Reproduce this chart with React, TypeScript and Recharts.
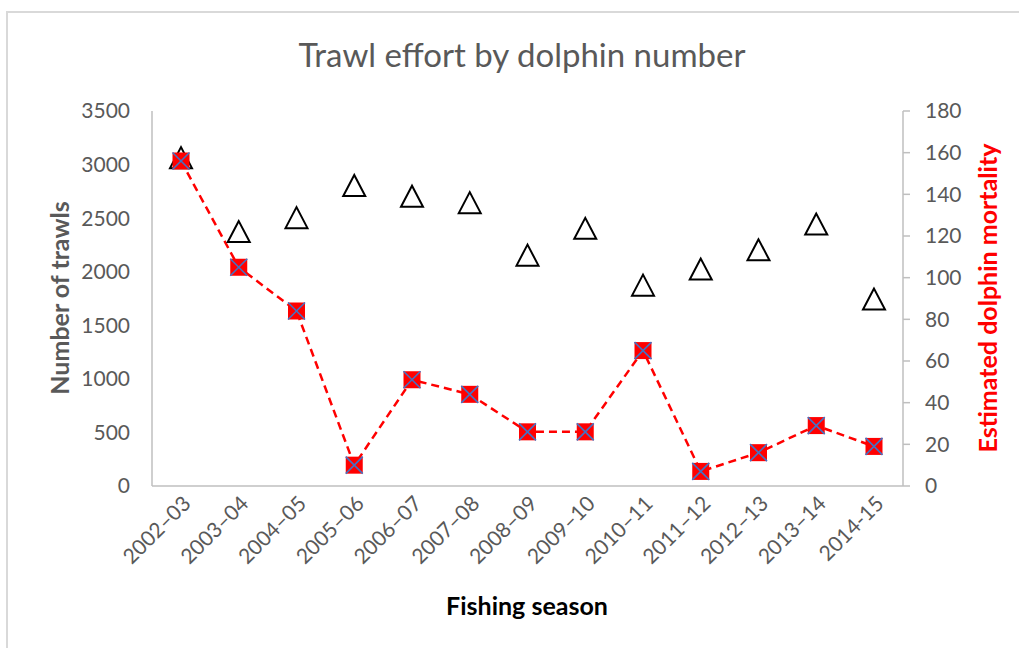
import React from "react";
import { ComposedChart, Line, XAxis, YAxis } from "recharts";

const seasons = [
  "2002–03",
  "2003–04",
  "2004–05",
  "2005–06",
  "2006–07",
  "2007–08",
  "2008–09",
  "2009–10",
  "2010–11",
  "2011–12",
  "2012–13",
  "2013–14",
  "2014-15",
];
const trawls = [3060, 2370, 2500, 2800, 2700, 2640, 2150, 2400, 1870, 2020, 2200, 2440, 1740];
const mortality = [156, 105, 84, 10, 51, 44, 26, 26, 65, 7, 16, 29, 19];
const trawlTicks = [0, 500, 1000, 1500, 2000, 2500, 3000, 3500];
const mortalityTicks = [0, 20, 40, 60, 80, 100, 120, 140, 160, 180];

const data = seasons.map((season, i) => ({
  season,
  trawls: trawls[i],
  mortality: mortality[i],
}));

const FONT = "Lato, 'Open Sans', sans-serif";
const GREY = "#595959";
const AXIS = "#bfbfbf";

function TriangleDot(props: any) {
  const { cx, cy, index } = props;
  if (cx == null || cy == null) return null;
  const pts = `${cx},${cy - 11} ${cx - 11},${cy + 10} ${cx + 11},${cy + 10}`;
  return (
    <polygon
      key={`tri-${index}`}
      points={pts}
      fill="#ffffff"
      stroke="#000000"
      strokeWidth={2}
      strokeLinejoin="miter"
    />
  );
}

function SquareDot(props: any) {
  const { cx, cy, index } = props;
  if (cx == null || cy == null) return null;
  const h = 8.5;
  return (
    <g key={`sq-${index}`}>
      <rect x={cx - h} y={cy - h} width={h * 2} height={h * 2} fill="#ff0000" />
      <line x1={cx - h} y1={cy - h} x2={cx + h} y2={cy + h} stroke="#4472c4" strokeWidth={1.6} />
      <line x1={cx - h} y1={cy + h} x2={cx + h} y2={cy - h} stroke="#4472c4" strokeWidth={1.6} />
    </g>
  );
}

function SeasonTick(props: any) {
  const { x, payload } = props;
  const ax = x + 11;
  const ay = 505;
  return (
    <text
      x={ax}
      y={ay}
      transform={`rotate(-45, ${ax}, ${ay})`}
      textAnchor="end"
      fill={GREY}
      fontSize={21}
      fontFamily={FONT}
    >
      {payload.value}
    </text>
  );
}

export default function App() {
  return (
    <div style={{ position: "absolute", left: 0, top: 0, width: 1019, height: 648, background: "#fff" }}>
      <style>{`body{margin:0}`}</style>
      <div
        style={{
          position: "absolute",
          left: 6,
          top: 11,
          width: 1040,
          height: 660,
          border: "2px solid #d9d9d9",
          boxSizing: "border-box",
        }}
      />
      <div style={{ position: "absolute", left: 0, top: 0 }}>
        <ComposedChart
          width={1019}
          height={648}
          data={data}
          margin={{ top: 111, right: 0, bottom: 62, left: 0 }}
        >
          <XAxis
            dataKey="season"
            interval={0}
            height={100}
            padding={{ left: 29, right: 29 }}
            tickLine={false}
            axisLine={{ stroke: AXIS, strokeWidth: 1.5 }}
            tick={<SeasonTick />}
          />
          <YAxis
            yAxisId="left"
            width={152}
            domain={[0, 3500]}
            ticks={trawlTicks}
            interval={0}
            tickLine={false}
            tickSize={0}
            tickMargin={22}
            axisLine={{ stroke: AXIS, strokeWidth: 1.5 }}
            tick={{ fill: GREY, fontSize: 21, fontFamily: FONT }}
          />
          <YAxis
            yAxisId="right"
            orientation="right"
            width={116}
            domain={[0, 180]}
            ticks={mortalityTicks}
            interval={0}
            tickSize={7}
            tickMargin={15}
            tickLine={{ stroke: AXIS, strokeWidth: 1.5 }}
            axisLine={{ stroke: AXIS, strokeWidth: 1.5 }}
            tick={{ fill: GREY, fontSize: 21, fontFamily: FONT, textAnchor: "start" }}
          />
          <Line
            yAxisId="left"
            dataKey="trawls"
            stroke="none"
            dot={TriangleDot}
            activeDot={false}
            isAnimationActive={false}
          />
          <Line
            yAxisId="right"
            type="linear"
            dataKey="mortality"
            stroke="#ff0000"
            strokeWidth={2.5}
            strokeDasharray="8 5"
            dot={SquareDot}
            activeDot={false}
            isAnimationActive={false}
          />
        </ComposedChart>
      </div>
      <svg
        width={1019}
        height={648}
        style={{ position: "absolute", left: 0, top: 0, pointerEvents: "none" }}
      >
        <text x={522} y={67} textAnchor="middle" fill={GREY} fontSize={33} fontFamily={FONT}>
          Trawl effort by dolphin number
        </text>
        <text
          x={527}
          y={615}
          textAnchor="middle"
          fill="#000000"
          fontSize={25}
          fontWeight="bold"
          fontFamily={FONT}
        >
          Fishing season
        </text>
        <text
          x={69}
          y={298}
          transform="rotate(-90, 69, 298)"
          textAnchor="middle"
          fill={GREY}
          fontSize={25}
          fontWeight="bold"
          fontFamily={FONT}
        >
          Number of trawls
        </text>
        <text
          x={997}
          y={298}
          transform="rotate(-90, 997, 298)"
          textAnchor="middle"
          fill="#ff0000"
          fontSize={25}
          fontWeight="bold"
          fontFamily={FONT}
        >
          Estimated dolphin mortality
        </text>
      </svg>
    </div>
  );
}
